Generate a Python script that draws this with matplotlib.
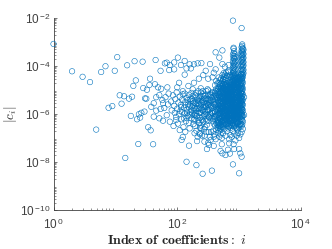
import numpy as np
import matplotlib
matplotlib.use('Agg')
import matplotlib.pyplot as plt
from matplotlib.ticker import LogLocator, FixedFormatter, FixedLocator, NullFormatter

# all values are log10 of index / log10 of |c_i|
left_i = [0.00, 0.30, 0.47, 0.59, 0.77, 0.84, 1.03, 0.99, 1.19, 1.31,
          1.44, 1.65, 1.80, 1.73, 1.33, 1.29, 1.56, 1.45, 1.55, 1.64,
          1.69, 1.74, 1.51, 1.07, 1.14, 1.22, 1.27, 1.10, 0.89, 0.95,
          1.48, 1.50, 1.66, 1.71, 1.62, 1.58, 1.66, 1.73, 1.77, 1.47,
          1.42, 1.38, 1.25, 1.35, 1.40, 1.62, 1.71, 1.77, 0.69, 1.53,
          1.57, 1.37, 1.61, 1.16]
left_c = [-3.08, -4.22, -4.45, -4.67, -4.25, -4.01, -3.63, -4.20, -3.97, -3.80,
          -3.82, -3.75, -3.89, -4.20, -4.60, -4.83, -4.53, -4.92, -4.79, -4.76,
          -4.89, -4.95, -4.99, -5.22, -5.26, -5.36, -5.28, -5.57, -5.74, -5.67,
          -5.35, -5.36, -5.30, -5.21, -5.55, -5.70, -5.86, -5.79, -5.55, -5.90,
          -5.95, -6.01, -6.08, -6.22, -6.15, -6.11, -6.18, -6.28, -6.65, -6.55,
          -6.68, -7.25, -7.26, -7.83]

right_i = [2.15, 2.31, 2.41, 2.56, 2.90, 3.00, 2.19, 2.07, 2.09, 2.04,
           2.13, 2.32, 2.48, 2.51, 2.59, 2.37, 2.44, 2.73, 2.78, 2.85,
           2.82, 2.92, 3.00, 3.04, 3.02, 2.70, 2.72, 2.91, 2.84, 2.54,
           2.59, 2.90, 3.04, 3.05, 2.91, 2.73, 2.62, 2.68, 2.53, 2.39,
           2.33, 2.27, 2.20, 2.12, 2.01, 1.95, 1.83, 1.88, 2.06, 2.15,
           2.22, 1.87, 1.95, 2.12, 2.73, 2.77, 2.83, 2.46, 2.62, 2.59,
           2.42, 2.35, 2.50, 2.57, 2.27, 2.03, 1.84, 2.00, 2.18, 2.25,
           2.38, 2.49, 3.08, 3.08, 1.98]
right_c = [-7.99, -8.13, -8.49, -8.36, -8.10, -8.47, -7.32, -7.08, -6.96, -6.67,
           -6.74, -7.13, -7.46, -7.29, -7.33, -6.85, -6.90, -7.64, -7.71, -7.65,
           -7.49, -7.46, -7.46, -7.78, -7.64, -7.54, -7.26, -7.26, -7.22, -7.08,
           -6.95, -2.11, -2.42, -3.10, -3.24, -3.35, -3.43, -3.65, -3.92, -3.88,
           -3.89, -3.93, -3.93, -3.79, -3.65, -3.85, -3.86, -3.96, -3.96, -4.10,
           -4.10, -4.17, -4.14, -4.36, -3.92, -4.03, -3.96, -4.20, -4.14, -4.28,
           -4.38, -4.53, -4.53, -4.47, -4.70, -4.70, -4.89, -4.89, -4.83, -4.97,
           -4.93, -4.97, -5.30, -6.04, -6.25]

# middle cloud
mid_i = [1.76, 1.79, 1.81, 1.83, 1.85, 1.86, 1.88, 1.90, 1.91, 1.93,
         1.94, 1.95, 1.96, 1.97, 1.98, 1.99, 2.00, 2.01, 2.02, 2.03,
         2.04, 2.05, 2.06, 2.07, 2.08, 2.09, 2.10, 2.11, 2.12, 2.13,
         2.14, 2.15, 2.16, 2.17, 2.18, 2.19, 2.20, 2.21, 2.22, 2.23,
         2.24, 2.25, 2.26, 2.27, 2.28, 2.29, 2.30, 2.31, 2.32, 2.33,
         2.34, 2.35, 2.36, 2.37, 2.38, 2.39, 2.40, 2.41, 2.42, 2.43,
         2.44, 2.45, 2.46, 2.47, 2.48, 2.49, 2.50, 2.51, 2.52, 2.53,
         2.30, 2.12, 2.44, 2.25, 2.36, 2.18, 2.50, 2.08, 2.41, 2.28,
         2.33, 2.46, 2.20, 2.52, 2.38, 2.15, 2.48, 2.26, 2.42, 2.35,
         2.21, 2.31, 2.47, 2.39, 2.54, 2.29, 2.43, 2.37, 2.50, 2.45,
         2.55, 2.56, 2.57, 2.58, 2.59, 2.60, 2.61, 2.62, 2.63, 2.64,
         2.55, 2.57, 2.59, 2.61, 2.63, 2.65, 2.56, 2.58, 2.60, 2.62,
         2.28, 2.40, 2.47, 2.53, 2.58, 2.62, 2.36, 2.44, 2.50, 2.33]
mid_c = [-5.42, -5.75, -5.30, -6.05, -5.60, -5.15, -6.32, -5.48, -5.85, -5.22,
         -6.50, -5.66, -5.95, -5.38, -6.12, -5.10, -5.78, -6.40, -5.52, -6.00,
         -5.28, -5.88, -5.62, -6.22, -5.40, -5.05, -6.55, -5.74, -5.98, -5.50,
         -6.30, -5.33, -5.82, -6.08, -5.58, -5.20, -6.60, -5.92, -5.45, -6.18,
         -5.68, -5.25, -6.42, -5.86, -5.52, -6.02, -5.12, -6.70, -5.76, -5.40,
         -6.25, -5.60, -5.95, -5.30, -6.48, -5.80, -5.48, -6.10, -5.18, -6.62,
         -5.70, -5.90, -5.36, -6.30, -5.55, -6.05, -5.22, -6.75, -5.82, -5.44,
         -5.95, -5.15, -6.02, -5.48, -6.35, -5.70, -5.62, -5.92, -5.40, -6.20,
         -5.55, -5.72, -6.05, -6.15, -5.10, -6.15, -6.45, -5.65, -5.85, -5.35,
         -5.38, -5.28, -5.05, -6.60, -5.30, -6.50, -5.25, -5.75, -6.28, -6.55,
         -5.45, -6.15, -5.75, -5.08, -6.40, -5.60, -5.92, -5.20, -6.65, -5.35,
         -6.75, -6.30, -5.25, -6.10, -5.72, -6.45, -5.95, -5.50, -6.85, -5.05,
         -6.80, -6.90, -6.75, -6.95, -6.70, -7.05, -6.80, -7.15, -7.20, -6.95]

# second pass over the thicker part of the cloud
mid2_i = [2.06, 2.09, 2.11, 2.13, 2.16, 2.17, 2.19, 2.21, 2.23, 2.24,
          2.26, 2.27, 2.29, 2.30, 2.32, 2.34, 2.35, 2.37, 2.38, 2.39,
          2.41, 2.42, 2.43, 2.45, 2.46, 2.47, 2.49, 2.50, 2.51, 2.52,
          2.53, 2.54, 2.55, 2.56, 2.57, 2.58, 2.59, 2.24, 2.28, 2.31,
          2.33, 2.36, 2.40, 2.44, 2.48, 2.34, 2.38, 2.42, 2.46, 2.51,
          2.54, 2.57, 2.27, 2.35, 2.43, 2.49, 2.53, 2.56, 2.30, 2.39,
          2.45, 2.52, 2.58, 2.22, 2.37, 2.47, 2.55, 2.59, 2.41, 2.50]
mid2_c = [-5.72, -5.18, -6.18, -5.62, -5.95, -5.42, -6.38, -5.65, -5.12, -5.98,
          -5.55, -6.25, -5.22, -5.80, -6.08, -5.45, -5.78, -6.15, -5.62, -5.25,
          -5.85, -6.32, -5.52, -5.22, -6.00, -5.68, -5.38, -5.85, -6.12, -5.55,
          -5.18, -6.02, -5.68, -5.32, -5.88, -6.22, -5.58, -5.38, -5.75, -6.10,
          -5.88, -5.48, -6.25, -5.35, -5.82, -5.05, -5.95, -5.72, -6.20, -5.42,
          -5.62, -5.95, -6.05, -6.38, -6.08, -5.60, -5.98, -5.12, -5.58, -5.52,
          -5.60, -5.72, -5.40, -5.82, -6.58, -5.45, -5.20, -6.12, -5.05, -5.02]

# dense block at the high indices, one list of |c_i| per index
block_i = [2.66, 2.68, 2.70, 2.72, 2.74, 2.76, 2.78, 2.80, 2.82, 2.84, 2.86,
           2.88, 2.90, 2.92, 2.94, 2.96, 2.98, 3.00, 3.02, 3.04, 3.06]
block_c = [[-4.95, -5.20, -5.42, -5.68, -5.85, -6.02, -6.25, -6.40, -6.58, -6.78],
           [-5.05, -5.30, -5.55, -5.75, -5.95, -6.15, -6.32, -6.50, -6.70, -6.95],
           [-4.85, -5.10, -5.35, -5.60, -5.80, -6.00, -6.20, -6.45, -6.65, -6.85],
           [-4.70, -4.98, -5.25, -5.48, -5.72, -5.90, -6.12, -6.35, -6.55, -7.00],
           [-4.55, -4.80, -5.05, -5.30, -5.52, -5.78, -6.02, -6.28, -6.52, -6.80],
           [-4.45, -4.68, -4.92, -5.15, -5.40, -5.62, -5.88, -6.10, -6.38, -6.62],
           [-4.58, -4.82, -5.02, -5.25, -5.50, -5.70, -5.95, -6.20, -6.45, -6.90],
           [-4.40, -4.72, -4.95, -5.18, -5.38, -5.58, -5.82, -6.05, -6.30, -6.72],
           [-4.25, -4.85, -5.08, -5.28, -5.45, -5.65, -5.90, -6.15, -6.42, -6.60],
           [-4.72, -4.92, -5.12, -5.32, -5.55, -5.75, -5.98, -6.22, -6.50, -7.05],
           [-4.80, -5.00, -5.22, -5.42, -5.62, -5.85, -6.08, -6.32, -6.58, -6.88],
           [-4.65, -4.88, -5.10, -5.30, -5.50, -5.72, -5.95, -6.18, -6.45, -6.95],
           [-4.55, -4.78, -5.02, -5.25, -5.45, -5.68, -5.90, -6.12, -6.38, -6.70],
           [-4.70, -4.95, -5.18, -5.38, -5.60, -5.80, -6.02, -6.25, -6.52, -6.82],
           [-4.60, -4.85, -5.08, -5.32, -5.52, -5.75, -5.98, -6.20, -6.48, -7.10],
           [-4.75, -5.00, -5.20, -5.42, -5.65, -5.88, -6.10, -6.35, -6.60, -6.90],
           [-4.50, -4.80, -5.05, -5.28, -5.48, -5.70, -5.92, -6.15, -6.42, -6.78],
           [-4.62, -4.90, -5.15, -5.35, -5.58, -5.82, -6.05, -6.28, -6.55, -7.00],
           [-4.48, -4.72, -4.98, -5.22, -5.45, -5.68, -5.90, -6.12, -6.40, -6.85],
           [-4.58, -4.82, -5.08, -5.30, -5.52, -5.75, -5.98, -6.22, -6.50, -6.75],
           [-4.45, -4.70, -4.95, -5.18, -5.40, -5.62, -5.85, -6.08, -6.32, -6.62]]

# second pass over the block, filling it in
block2_i = [2.61, 2.63, 2.65, 2.67, 2.69, 2.71, 2.73, 2.75, 2.77, 2.79, 2.81, 2.83,
            2.85, 2.87, 2.89, 2.91, 2.93, 2.95, 2.97, 2.99, 3.01, 3.03, 3.05]
block2_c = [[-4.80, -5.12, -5.36, -5.62, -5.88, -6.20, -6.48],
            [-4.62, -4.96, -5.28, -5.54, -5.82, -6.10, -6.38],
            [-4.72, -5.04, -5.32, -5.58, -5.80, -6.06, -6.34],
            [-4.48, -4.72, -4.88, -5.10, -5.24, -5.46, -5.62, -5.80, -5.98, -6.14, -6.36, -6.52],
            [-4.60, -4.78, -4.96, -5.18, -5.34, -5.50, -5.70, -5.88, -6.06, -6.22, -6.40, -6.60],
            [-4.52, -4.74, -4.92, -5.06, -5.28, -5.44, -5.66, -5.84, -5.96, -6.16, -6.30, -6.54],
            [-4.38, -4.62, -4.84, -5.00, -5.20, -5.38, -5.56, -5.76, -5.92, -6.10, -6.28, -6.46],
            [-4.30, -4.56, -4.76, -4.94, -5.12, -5.32, -5.48, -5.68, -5.86, -6.04, -6.24, -6.42],
            [-4.36, -4.54, -4.76, -4.96, -5.08, -5.28, -5.46, -5.60, -5.80, -5.98, -6.18, -6.34],
            [-4.28, -4.50, -4.84, -5.00, -5.14, -5.32, -5.50, -5.72, -5.88, -6.06, -6.24, -6.40],
            [-4.42, -4.78, -4.90, -5.04, -5.22, -5.36, -5.56, -5.74, -5.90, -6.08, -6.26, -6.48],
            [-4.20, -4.82, -4.98, -5.16, -5.30, -5.48, -5.64, -5.82, -6.02, -6.18, -6.36, -6.54],
            [-4.38, -4.66, -4.88, -5.06, -5.26, -5.40, -5.58, -5.78, -5.94, -6.14, -6.28, -6.44],
            [-4.46, -4.70, -4.92, -5.04, -5.20, -5.38, -5.54, -5.76, -5.90, -6.06, -6.26, -6.50],
            [-4.42, -4.58, -4.78, -4.96, -5.16, -5.34, -5.52, -5.70, -5.88, -6.02, -6.22, -6.40],
            [-4.36, -4.64, -4.84, -5.00, -5.18, -5.36, -5.56, -5.74, -5.96, -6.10, -6.30, -6.46],
            [-4.44, -4.60, -4.80, -5.02, -5.22, -5.42, -5.62, -5.78, -5.92, -6.08, -6.24, -6.42],
            [-4.50, -4.72, -4.90, -5.12, -5.30, -5.48, -5.64, -5.82, -6.00, -6.18, -6.34, -6.56],
            [-4.56, -4.72, -4.94, -5.14, -5.34, -5.56, -5.76, -5.84, -6.04, -6.20, -6.38, -6.64],
            [-4.46, -4.68, -4.88, -5.10, -5.26, -5.44, -5.60, -5.80, -5.98, -6.12, -6.32, -6.48],
            [-4.40, -4.60, -4.82, -5.00, -5.18, -5.36, -5.56, -5.72, -5.94, -6.14, -6.30, -6.46],
            [-4.34, -4.54, -4.76, -4.92, -5.14, -5.34, -5.48, -5.66, -5.84, -6.04, -6.20, -6.42],
            [-4.52, -4.62, -4.86, -5.02, -5.24, -5.46, -5.58, -5.78, -5.92, -6.10, -6.26, -6.44]]

# third pass, only the solid core
block3_i = [2.745, 2.775, 2.805, 2.825, 2.855, 2.875, 2.895, 2.925, 2.945, 2.965, 2.985, 3.005, 3.025, 3.045]
block3_c = [[-4.90, -5.10, -5.34, -5.54, -5.74, -5.94, -6.16],
            [-4.78, -4.99, -5.20, -5.42, -5.64, -5.84, -6.08],
            [-4.86, -5.06, -5.26, -5.46, -5.66, -5.86, -6.10],
            [-4.94, -5.14, -5.34, -5.50, -5.70, -5.92, -6.12],
            [-4.76, -4.96, -5.14, -5.36, -5.56, -5.80, -6.02, -6.20],
            [-4.70, -4.90, -5.08, -5.28, -5.46, -5.66, -5.88, -6.10],
            [-4.62, -4.82, -5.06, -5.24, -5.42, -5.60, -5.84, -6.04],
            [-4.58, -4.80, -5.00, -5.20, -5.40, -5.64, -5.86, -6.06],
            [-4.68, -4.88, -5.10, -5.28, -5.48, -5.70, -5.90, -6.14],
            [-4.72, -4.92, -5.16, -5.36, -5.54, -5.74, -5.94, -6.18],
            [-4.66, -4.86, -5.08, -5.30, -5.50, -5.72, -5.90, -6.10],
            [-4.54, -4.76, -4.96, -5.20, -5.40, -5.62, -5.84, -6.02],
            [-4.44, -4.68, -4.92, -5.12, -5.32, -5.52, -5.76, -5.96],
            [-4.50, -4.70, -4.94, -5.16, -5.38, -5.60, -5.82, -6.06]]

# the two narrow columns above the block
col_i = [2.90, 2.91, 2.92, 2.93, 2.94, 3.03, 3.04, 3.05, 3.06, 3.07]
col_c = [[-3.55, -3.78, -3.98, -4.16, -4.30, -4.46],
         [-3.28, -3.46, -3.66, -3.86, -4.06, -4.24, -4.42],
         [-3.38, -3.58, -3.72, -3.92, -4.10, -4.28, -4.50],
         [-3.50, -3.68, -3.84, -4.02, -4.20, -4.38],
         [-3.62, -3.80, -3.96, -4.14, -4.34, -4.54],
         [-3.48, -3.64, -3.82, -4.00, -4.18, -4.36],
         [-3.22, -3.36, -3.56, -3.76, -3.94, -4.12, -4.32],
         [-3.16, -3.30, -3.44, -3.60, -3.74, -3.90, -4.06, -4.24, -4.40],
         [-3.26, -3.40, -3.54, -3.70, -3.86, -4.02, -4.18, -4.34],
         [-3.32, -3.50, -3.66, -3.84, -3.98, -4.16, -4.30]]

x_ticks = [1, 100, 10000]
x_labels = ['10$^{\\,\\mathregular{0}}$', '10$^{\\,\\mathregular{2}}$', '10$^{\\,\\mathregular{4}}$']
y_ticks = [1e-10, 1e-8, 1e-6, 1e-4, 1e-2]
y_labels = ['10$^{\\,\\mathregular{-10}}$', '10$^{\\,\\mathregular{-8}}$', '10$^{\\,\\mathregular{-6}}$',
            '10$^{\\,\\mathregular{-4}}$', '10$^{\\,\\mathregular{-2}}$']

plt.rcParams['font.family'] = ['Liberation Sans', 'DejaVu Sans']
plt.rcParams['mathtext.fontset'] = 'cm'

blue = '#0072BD'
dark = '#404040'

fig = plt.figure(figsize=(3.32, 2.49), dpi=100)
ax = fig.add_axes([53.5 / 332, 39 / 249, 247.5 / 332, 192 / 249])

all_i = left_i + right_i + mid_i + mid2_i
all_c = left_c + right_c + mid_c + mid2_c
for i, c in zip(block_i + block2_i + block3_i + col_i, block_c + block2_c + block3_c + col_c):
    all_i = all_i + [i] * len(c)
    all_c = all_c + c

ax.scatter(10.0 ** np.array(all_i), 10.0 ** np.array(all_c), s=15.5, facecolors='none',
           edgecolors=blue, linewidths=0.4, clip_on=False, zorder=3)

ax.set_xscale('log')
ax.set_yscale('log')
ax.set_xlim(1, 1e4)
ax.set_ylim(1e-10, 1e-2)

ax.xaxis.set_major_locator(FixedLocator(x_ticks))
ax.xaxis.set_major_formatter(FixedFormatter(x_labels))
ax.yaxis.set_major_locator(FixedLocator(y_ticks))
ax.yaxis.set_major_formatter(FixedFormatter(y_labels))
ax.xaxis.set_minor_locator(LogLocator(base=10, subs=range(2, 10), numticks=20))
ax.yaxis.set_minor_locator(LogLocator(base=10, subs=range(2, 10), numticks=20))
ax.xaxis.set_minor_formatter(NullFormatter())
ax.yaxis.set_minor_formatter(NullFormatter())

ax.tick_params(which='major', direction='in', length=2.2, width=0.5, color=dark,
               labelcolor=dark, labelsize=8.5, pad=2)
ax.tick_params(axis='x', which='major', pad=5)
ax.tick_params(which='minor', direction='in', length=1.1, width=0.4, color=dark)

ax.spines['top'].set_visible(False)
ax.spines['right'].set_visible(False)
for side in ['left', 'bottom']:
    ax.spines[side].set_linewidth(0.6)
    ax.spines[side].set_color(dark)

ax.set_xlabel(r'$\mathbf{Index\ of\ coefficients:}\ i$', fontsize=10, color='#262626', labelpad=1)
ax.set_ylabel(r'$|c_i|$', fontsize=9.5, color='#262626', labelpad=1)

fig.savefig('out.png', dpi=100)
